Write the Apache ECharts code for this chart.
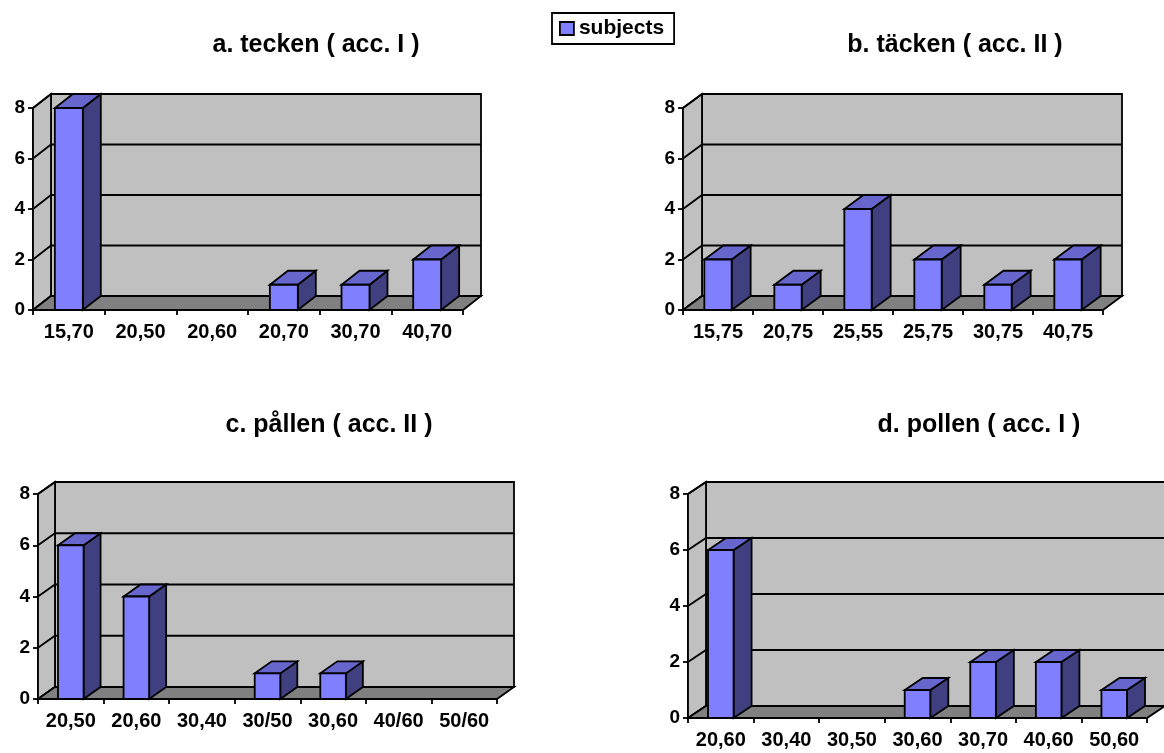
<!DOCTYPE html>
<html><head><meta charset="utf-8">
<script src="https://cdn.jsdelivr.net/npm/echarts@6/dist/echarts.min.js"></script>
<style>html,body{margin:0;padding:0;background:#fff}#c{width:1164px;height:753px}</style>
</head><body><div id="c"></div>
<script>
// ---- data ----
const catsA = ['15,70','20,50','20,60','20,70','30,70','40,70'];
const valsA = [8,0,0,1,1,2];
const catsB = ['15,75','20,75','25,55','25,75','30,75','40,75'];
const valsB = [2,1,4,2,1,2];
const catsC = ['20,50','20,60','30,40','30/50','30,60','40/60','50/60'];
const valsC = [6,4,0,1,1,0,0];
const catsD = ['20,60','30,40','30,50','30,60','30,70','40,60','50,60'];
const valsD = [6,0,0,1,2,2,1];
const titles = ['a. tecken ( acc. I )','b. täcken ( acc. II )','c. pållen ( acc. II )','d. pollen ( acc. I )'];
const yTicks = [0,2,4,6,8];
const seriesName = 'subjects';

// ---- layout / style ----
const FONT = 'Liberation Sans, Arial, sans-serif';
const panels = [
  {cats: catsA, vals: valsA, grid: {left: 33, top: 108, width: 430, height: 202}, depth: [18, -14], tx: 316, ty: 33},
  {cats: catsB, vals: valsB, grid: {left: 683, top: 108, width: 420, height: 202}, depth: [19, -14], tx: 955, ty: 33},
  {cats: catsC, vals: valsC, grid: {left: 38, top: 494, width: 459, height: 205}, depth: [17, -12], tx: 329, ty: 413},
  {cats: catsD, vals: valsD, grid: {left: 688, top: 494, width: 459, height: 224}, depth: [18, -12], tx: 979, ty: 413}
];
const LW = 1.8;
const yMax = yTicks[yTicks.length - 1];

function wallsRender(depth) {
  return function (params, api) {
    const cs = params.coordSys;
    const dx = depth[0], dy = depth[1];
    const x0 = cs.x, x1 = cs.x + cs.width;
    const yB = api.coord([0, 0])[1];
    const yT = api.coord([0, yMax])[1];
    const ch = [];
    ch.push({type: 'polygon', shape: {points: [[x0 + dx, yT + dy], [x1 + dx, yT + dy], [x1 + dx, yB + dy], [x0 + dx, yB + dy]]},
      style: {fill: '#C0C0C0', stroke: '#000', lineWidth: LW}});
    ch.push({type: 'polygon', shape: {points: [[x0, yT], [x0 + dx, yT + dy], [x0 + dx, yB + dy], [x0, yB]]},
      style: {fill: '#C0C0C0', stroke: '#000', lineWidth: LW}});
    yTicks.forEach(function (v) {
      const y = api.coord([0, v])[1];
      ch.push({type: 'polyline', shape: {points: [[x0, y], [x0 + dx, y + dy], [x1 + dx, y + dy]]},
        style: {fill: null, stroke: '#000', lineWidth: LW}});
    });
    ch.push({type: 'polygon', shape: {points: [[x0, yB], [x1, yB], [x1 + dx, yB + dy], [x0 + dx, yB + dy]]},
      style: {fill: '#808080', stroke: '#000', lineWidth: LW}});
    return {type: 'group', children: ch, silent: true};
  };
}

function barRender(depth) {
  return function (params, api) {
    const v = api.value(1);
    if (!v) return null;
    const idx = api.value(0);
    const top = api.coord([idx, v]);
    const base = api.coord([idx, 0]);
    const bw = api.size([1, 0])[0] * 0.39;
    const xl = top[0] - bw / 2, xr = top[0] + bw / 2;
    const yt = top[1], yb = base[1];
    const dx = depth[0], dy = depth[1];
    return {type: 'group', children: [
      {type: 'polygon', shape: {points: [[xr, yt], [xr + dx, yt + dy], [xr + dx, yb + dy], [xr, yb]]},
        style: {fill: '#404080', stroke: '#000', lineWidth: LW}},
      {type: 'polygon', shape: {points: [[xl, yt], [xr, yt], [xr + dx, yt + dy], [xl + dx, yt + dy]]},
        style: {fill: '#6666CC', stroke: '#000', lineWidth: LW}},
      {type: 'polygon', shape: {points: [[xl, yt], [xr, yt], [xr, yb], [xl, yb]]},
        style: {fill: '#8080FF', stroke: '#000', lineWidth: LW}}
    ]};
  };
}

const grids = [], xAxes = [], yAxes = [], series = [], titleArr = [];
panels.forEach(function (p, i) {
  grids.push(Object.assign({containLabel: false}, p.grid));
  xAxes.push({
    type: 'category', gridIndex: i, data: p.cats, boundaryGap: true,
    axisLine: {show: true, lineStyle: {color: '#000', width: LW}},
    axisTick: {show: true, length: 5, lineStyle: {color: '#000', width: LW}},
    axisLabel: {interval: 0, color: '#000', fontWeight: 'bold', fontSize: 20, fontFamily: FONT, margin: 12},
    splitLine: {show: false}
  });
  yAxes.push({
    type: 'value', gridIndex: i, min: 0, max: yMax, interval: 2,
    axisLine: {show: true, lineStyle: {color: '#000', width: LW}},
    axisTick: {show: true, length: 5, lineStyle: {color: '#000', width: LW}},
    axisLabel: {color: '#000', fontWeight: 'bold', fontSize: 19, fontFamily: FONT, margin: 8},
    splitLine: {show: false}
  });
  series.push({
    type: 'custom', name: 'walls' + i, xAxisIndex: i, yAxisIndex: i, z: 1,
    renderItem: wallsRender(p.depth), data: [[0, 0]], silent: true, tooltip: {show: false}
  });
  series.push({
    type: 'custom', name: seriesName, xAxisIndex: i, yAxisIndex: i, z: 3,
    itemStyle: {color: '#8080FF'},
    renderItem: barRender(p.depth), data: p.vals.map(function (v, k) { return [k, v]; })
  });
  titleArr.push({
    text: titles[i], left: p.tx, top: p.ty, textAlign: 'center', padding: 0,
    textStyle: {fontSize: 25, fontWeight: 'bold', color: '#000', fontFamily: FONT}
  });
});

const chart = echarts.init(document.getElementById('c'));
chart.setOption({
  animation: false,
  backgroundColor: '#fff',
  color: ['#8080FF'],
  title: titleArr,
  legend: {
    data: [seriesName], left: 552, top: 13, icon: 'rect', itemWidth: 14, itemHeight: 13,
    borderColor: '#000', borderWidth: LW, padding: [5, 10, 5, 7], selectedMode: false,
    textStyle: {fontSize: 21, fontWeight: 'bold', color: '#000', fontFamily: FONT},
    itemStyle: {color: '#8080FF', borderColor: '#000', borderWidth: LW}
  },
  grid: grids, xAxis: xAxes, yAxis: yAxes, series: series
});
</script></body></html>
